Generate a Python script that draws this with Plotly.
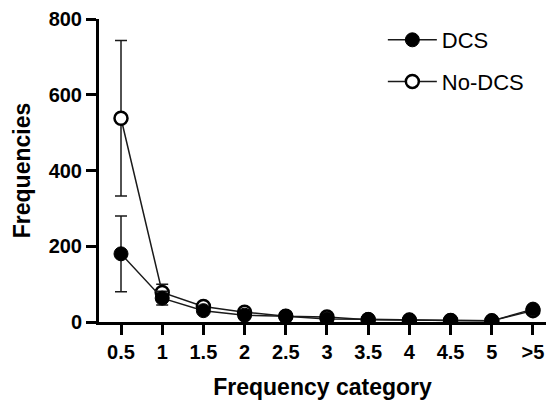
import plotly.graph_objects as go

# Frequency categories and group means with error (SD)
categories = ["0.5", "1", "1.5", "2", "2.5", "3", "3.5", "4", "4.5", "5", ">5"]
dcs_mean = [180, 63, 30, 18, 15, 8, 7, 5, 4, 3, 34]
dcs_err = [100, 18, 5, 4, 3, 2, 2, 2, 1, 1, 6]
nodcs_mean = [538, 78, 41, 26, 15, 13, 6, 5, 4, 3, 30]
nodcs_err = [205, 22, 6, 5, 3, 3, 2, 2, 1, 1, 6]

y_ticks = [0, 200, 400, 600, 800]

FONT = "Arial, Liberation Sans, sans-serif"
LINE = "#1a1a1a"

x_idx = list(range(len(categories)))

fig = go.Figure()

fig.add_trace(go.Scatter(
    x=x_idx, y=nodcs_mean, name="No-DCS", mode="lines+markers",
    legendgroup="b", legendrank=2,
    line=dict(color=LINE, width=1.5),
    marker=dict(symbol="circle", size=13, color="white",
                line=dict(color="black", width=2.5)),
    error_y=dict(type="data", array=nodcs_err, visible=True,
                 color=LINE, thickness=1.5, width=6),
))

fig.add_trace(go.Scatter(
    x=x_idx, y=dcs_mean, name="DCS", mode="lines+markers",
    legendgroup="a", legendrank=1,
    line=dict(color=LINE, width=1.5),
    marker=dict(symbol="circle", size=14, color="black",
                line=dict(color="black", width=1)),
    error_y=dict(type="data", array=dcs_err, visible=True,
                 color=LINE, thickness=1.5, width=6),
))

fig.update_layout(
    width=546, height=404,
    margin=dict(l=99, r=0, t=19, b=82),
    paper_bgcolor="white", plot_bgcolor="white",
    font=dict(family=FONT, color="black"),
    showlegend=True,
    legend=dict(
        x=0.635, y=1.0, xanchor="left", yanchor="top",
        traceorder="grouped", tracegroupgap=10,
        itemwidth=49,
        font=dict(family=FONT, size=22, color="black"),
        bgcolor="rgba(0,0,0,0)",
    ),
    xaxis=dict(
        range=[-0.534, 10.316],
        tickmode="array", tickvals=x_idx, ticktext=categories,
        showline=True, linecolor="black", linewidth=3,
        ticks="outside", ticklen=10, tickwidth=3, tickcolor="black",
        showgrid=False, zeroline=False,
        tickfont=dict(family=FONT, size=20, weight="bold"),
        title=dict(text="Frequency category", standoff=17,
                   font=dict(family=FONT, size=23, weight="bold")),
    ),
    yaxis=dict(
        range=[0, 800],
        tickmode="array", tickvals=y_ticks,
        showline=True, linecolor="black", linewidth=3,
        ticks="outside", ticklen=10, tickwidth=3, tickcolor="black",
        showgrid=False, zeroline=False,
        tickfont=dict(family=FONT, size=20, weight="bold"),
        title=dict(text="Frequencies", standoff=12,
                   font=dict(family=FONT, size=23, weight="bold")),
    ),
)

fig.write_html("out.html")
